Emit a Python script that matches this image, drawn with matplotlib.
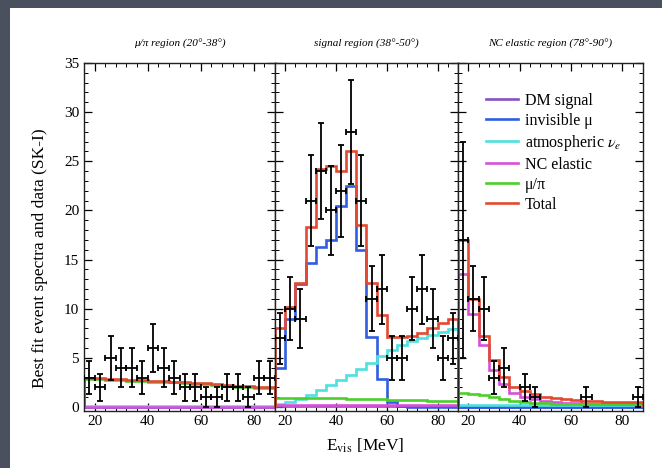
import numpy as np
import matplotlib
matplotlib.use("Agg")
import matplotlib.pyplot as plt
from matplotlib.patches import Rectangle
from matplotlib.ticker import MultipleLocator

plt.rcParams['font.family'] = ['Liberation Serif', 'DejaVu Serif']
plt.rcParams['mathtext.fontset'] = 'stix'

# ---------------- data ----------------
bin_edges = [16, 20, 24, 28, 32, 36, 40, 44, 48, 52, 56, 60, 64, 68, 72, 76, 80, 84, 88]
bin_centers = [18, 22, 26, 30, 34, 38, 42, 46, 50, 54, 58, 62, 66, 70, 74, 78, 82, 86]
x_ticks = [20, 40, 60, 80]
y_ticks = [0, 5, 10, 15, 20, 25, 30, 35]

panel_titles = ["μ/π region (20°-38°)", "signal region (38°-50°)", "NC elastic region (78°-90°)"]
legend_labels = ["DM signal", "invisible μ", r"atmospheric $\nu_e$", "NC elastic", "μ/π", "Total"]
colors = ["#8a4fc0", "#2f5fe0", "#4fe0e0", "#d850d8", "#4ccf2a", "#e24a33"]

# panel 1 : mu/pi region
dm_1   = [0.05, 0.05, 0.05, 0.05, 0.05, 0.05, 0.05, 0.05, 0.05, 0.05, 0.05, 0.05, 0.05, 0.05, 0.05, 0.05, 0.05, 0.05]
inv_1  = [0.0, 0.0, 0.0, 0.0, 0.0, 0.0, 0.0, 0.0, 0.0, 0.0, 0.0, 0.0, 0.0, 0.0, 0.0, 0.0, 0.0, 0.0]
atm_1  = [0.1, 0.1, 0.1, 0.1, 0.1, 0.1, 0.1, 0.1, 0.1, 0.1, 0.1, 0.1, 0.1, 0.1, 0.1, 0.1, 0.1, 0.1]
nc_1   = [0.0, 0.0, 0.0, 0.0, 0.0, 0.0, 0.0, 0.0, 0.0, 0.0, 0.0, 0.0, 0.0, 0.0, 0.0, 0.0, 0.0, 0.0]
mupi_1 = [2.9, 2.9, 2.8, 2.8, 2.7, 2.7, 2.6, 2.6, 2.5, 2.4, 2.3, 2.3, 2.2, 2.1, 2.0, 2.0, 1.9, 1.9]
tot_1  = [3.0, 3.0, 2.9, 2.9, 2.8, 2.8, 2.7, 2.7, 2.6, 2.5, 2.4, 2.4, 2.3, 2.2, 2.1, 2.1, 2.0, 2.0]
data_1    = [3, 2, 5, 4, 4, 3, 6, 4, 3, 2, 2, 1, 1, 2, 2, 1, 3, 3]
err_lo_1  = [1.7, 1.4, 2.2, 2.0, 2.0, 1.7, 2.4, 2.0, 1.7, 1.4, 1.4, 1.0, 1.0, 1.4, 1.4, 1.0, 1.7, 1.7]
err_hi_1  = [1.7, 1.4, 2.2, 2.0, 2.0, 1.7, 2.4, 2.0, 1.7, 1.4, 1.4, 1.0, 1.0, 1.4, 1.4, 1.0, 1.7, 1.7]

# panel 2 : signal region
dm_2   = [0.1, 0.1, 0.1, 0.1, 0.1, 0.1, 0.1, 0.1, 0.1, 0.1, 0.1, 0.1, 0.1, 0.1, 0.1, 0.1, 0.1, 0.1]
inv_2  = [4.0, 9.0, 12.5, 14.7, 16.3, 17.0, 20.5, 22.5, 16.0, 7.1, 2.9, 0.5, 0.1, 0.0, 0.0, 0.0, 0.0, 0.0]
atm_2  = [0.3, 0.5, 0.8, 1.2, 1.7, 2.2, 2.8, 3.3, 3.9, 4.5, 5.2, 5.8, 6.3, 6.7, 7.0, 7.3, 7.6, 7.9]
nc_2   = [0.2, 0.2, 0.2, 0.2, 0.2, 0.2, 0.2, 0.2, 0.2, 0.2, 0.2, 0.2, 0.2, 0.2, 0.2, 0.2, 0.2, 0.2]
mupi_2 = [0.9, 0.9, 0.9, 0.9, 0.9, 0.9, 0.9, 0.8, 0.8, 0.8, 0.8, 0.7, 0.7, 0.7, 0.7, 0.6, 0.6, 0.6]
tot_2  = [8.0, 10.2, 12.6, 18.3, 24.2, 24.5, 24.0, 26.0, 18.5, 12.6, 9.4, 7.1, 7.1, 7.2, 7.5, 8.0, 8.6, 9.0]
data_2    = [7, 10, 9, 21, 24, 20, 22, 28, 21, 11, 12, 5, 5, 10, 12, 9, 5, 7]
err_lo_2  = [2.6, 3.2, 3.0, 4.6, 4.9, 4.5, 4.7, 5.3, 4.6, 3.3, 3.5, 2.2, 2.2, 3.2, 3.5, 3.0, 2.2, 2.6]
err_hi_2  = [2.6, 3.2, 3.0, 4.6, 4.9, 4.5, 4.7, 5.3, 4.6, 3.3, 3.5, 2.2, 2.2, 3.2, 3.5, 3.0, 2.2, 2.6]

# panel 3 : NC elastic region
dm_3   = [0.0, 0.0, 0.0, 0.0, 0.0, 0.0, 0.0, 0.0, 0.0, 0.0, 0.0, 0.0, 0.0, 0.0, 0.0, 0.0, 0.0, 0.0]
inv_3  = [0.05, 0.05, 0.05, 0.05, 0.05, 0.05, 0.05, 0.0, 0.0, 0.0, 0.0, 0.0, 0.0, 0.0, 0.0, 0.0, 0.0, 0.0]
atm_3  = [0.2, 0.2, 0.2, 0.2, 0.2, 0.2, 0.2, 0.2, 0.2, 0.2, 0.2, 0.2, 0.2, 0.2, 0.2, 0.2, 0.2, 0.2]
nc_3   = [13.5, 9.5, 6.3, 3.8, 2.3, 1.4, 1.0, 0.8, 0.6, 0.5, 0.4, 0.4, 0.3, 0.3, 0.3, 0.3, 0.3, 0.3]
mupi_3 = [1.4, 1.3, 1.2, 1.0, 0.8, 0.6, 0.5, 0.4, 0.4, 0.3, 0.3, 0.3, 0.3, 0.3, 0.3, 0.3, 0.3, 0.3]
tot_3  = [17.0, 11.0, 7.2, 4.8, 3.1, 2.0, 1.6, 1.3, 1.0, 0.9, 0.8, 0.7, 0.6, 0.6, 0.5, 0.5, 0.5, 0.5]
data_3    = [17, 11, 10, 3, 4, 0, 2, 1, 0, 0, 0, 0, 1, 0, 0, 0, 0, 1]
err_lo_3  = [12.0, 3.3, 3.2, 1.7, 2.0, 0.0, 1.4, 1.0, 0.0, 0.0, 0.0, 0.0, 1.0, 0.0, 0.0, 0.0, 0.0, 1.0]
err_hi_3  = [10.0, 3.3, 3.2, 1.7, 2.0, 0.0, 1.4, 1.0, 0.0, 0.0, 0.0, 0.0, 1.0, 0.0, 0.0, 0.0, 0.0, 1.0]

panels = [
    (dm_1, inv_1, atm_1, nc_1, mupi_1, tot_1, data_1, err_lo_1, err_hi_1),
    (dm_2, inv_2, atm_2, nc_2, mupi_2, tot_2, data_2, err_lo_2, err_hi_2),
    (dm_3, inv_3, atm_3, nc_3, mupi_3, tot_3, data_3, err_lo_3, err_hi_3),
]

# ---------------- figure ----------------
W, H = 662, 468
fig = plt.figure(figsize=(W / 100, H / 100), dpi=100)
fig.patch.set_facecolor("#4a505d")
fig.patches.append(Rectangle((10 / W, 0), 1 - 10 / W, 1 - 8 / H, transform=fig.transFigure,
                             facecolor="white", edgecolor="none", zorder=-10))

left_px = [84, 275, 458]
right_px = [275, 458, 643]
top_px, bot_px = 63, 411

axes = []
for i in range(3):
    ax = fig.add_axes([left_px[i] / W, 1 - bot_px / H, (right_px[i] - left_px[i]) / W,
                       (bot_px - top_px) / H])
    ax.set_zorder(1)
    axes.append(ax)

for i, ax in enumerate(axes):
    dm, inv, atm, nc, mupi, tot, data, elo, ehi = panels[i]
    series = [dm, inv, atm, nc, mupi, tot]
    for s, vals in enumerate(series):
        ax.stairs(vals, bin_edges, color=colors[s], linewidth=1.9,
                  label=legend_labels[s], zorder=2 + s * 0.1)
    d = np.array(data, dtype=float)
    m = d > 0
    xc = np.array(bin_centers, dtype=float)[m]
    ax.errorbar(xc, d[m], yerr=[np.array(elo)[m], np.array(ehi)[m]], xerr=2,
                fmt="none", ecolor="black", elinewidth=1.3, capsize=2.5, capthick=1.3, zorder=5)

    ax.set_xlim(16, 88)
    ax.set_ylim(-0.4, 35)
    ax.set_xticks(x_ticks)
    ax.xaxis.set_minor_locator(MultipleLocator(4))
    ax.set_yticks(y_ticks)
    ax.yaxis.set_minor_locator(MultipleLocator(1))
    ax.tick_params(which="both", direction="in", top=True, right=True, labelsize=11)
    ax.tick_params(which="major", length=6, width=0.9)
    ax.tick_params(which="minor", length=3, width=0.7)
    ax.tick_params(axis="x", pad=3)
    if i > 0:
        ax.tick_params(labelleft=False)
    for sp in ax.spines.values():
        sp.set_linewidth(1.0)
        sp.set_color("#222222")
    ax.set_title(panel_titles[i], fontsize=8, style="italic", pad=12)

axes[2].legend(loc="upper left", bbox_to_anchor=(0.15, 0.915), frameon=False, fontsize=11.5,
               handlelength=2.0, handletextpad=0.45, labelspacing=0.25, borderpad=0,
               borderaxespad=0)

fig.text(40 / W, 1 - 258 / H, "Best fit event spectra and data (SK-I)", rotation=90,
         ha="center", va="center", fontsize=12.5)
fig.text(365 / W, 1 - 446 / H, r"E$_{\rm vis}$ [MeV]", ha="center", va="center", fontsize=12.5)

fig.savefig("out.png", dpi=100, facecolor=fig.get_facecolor())
